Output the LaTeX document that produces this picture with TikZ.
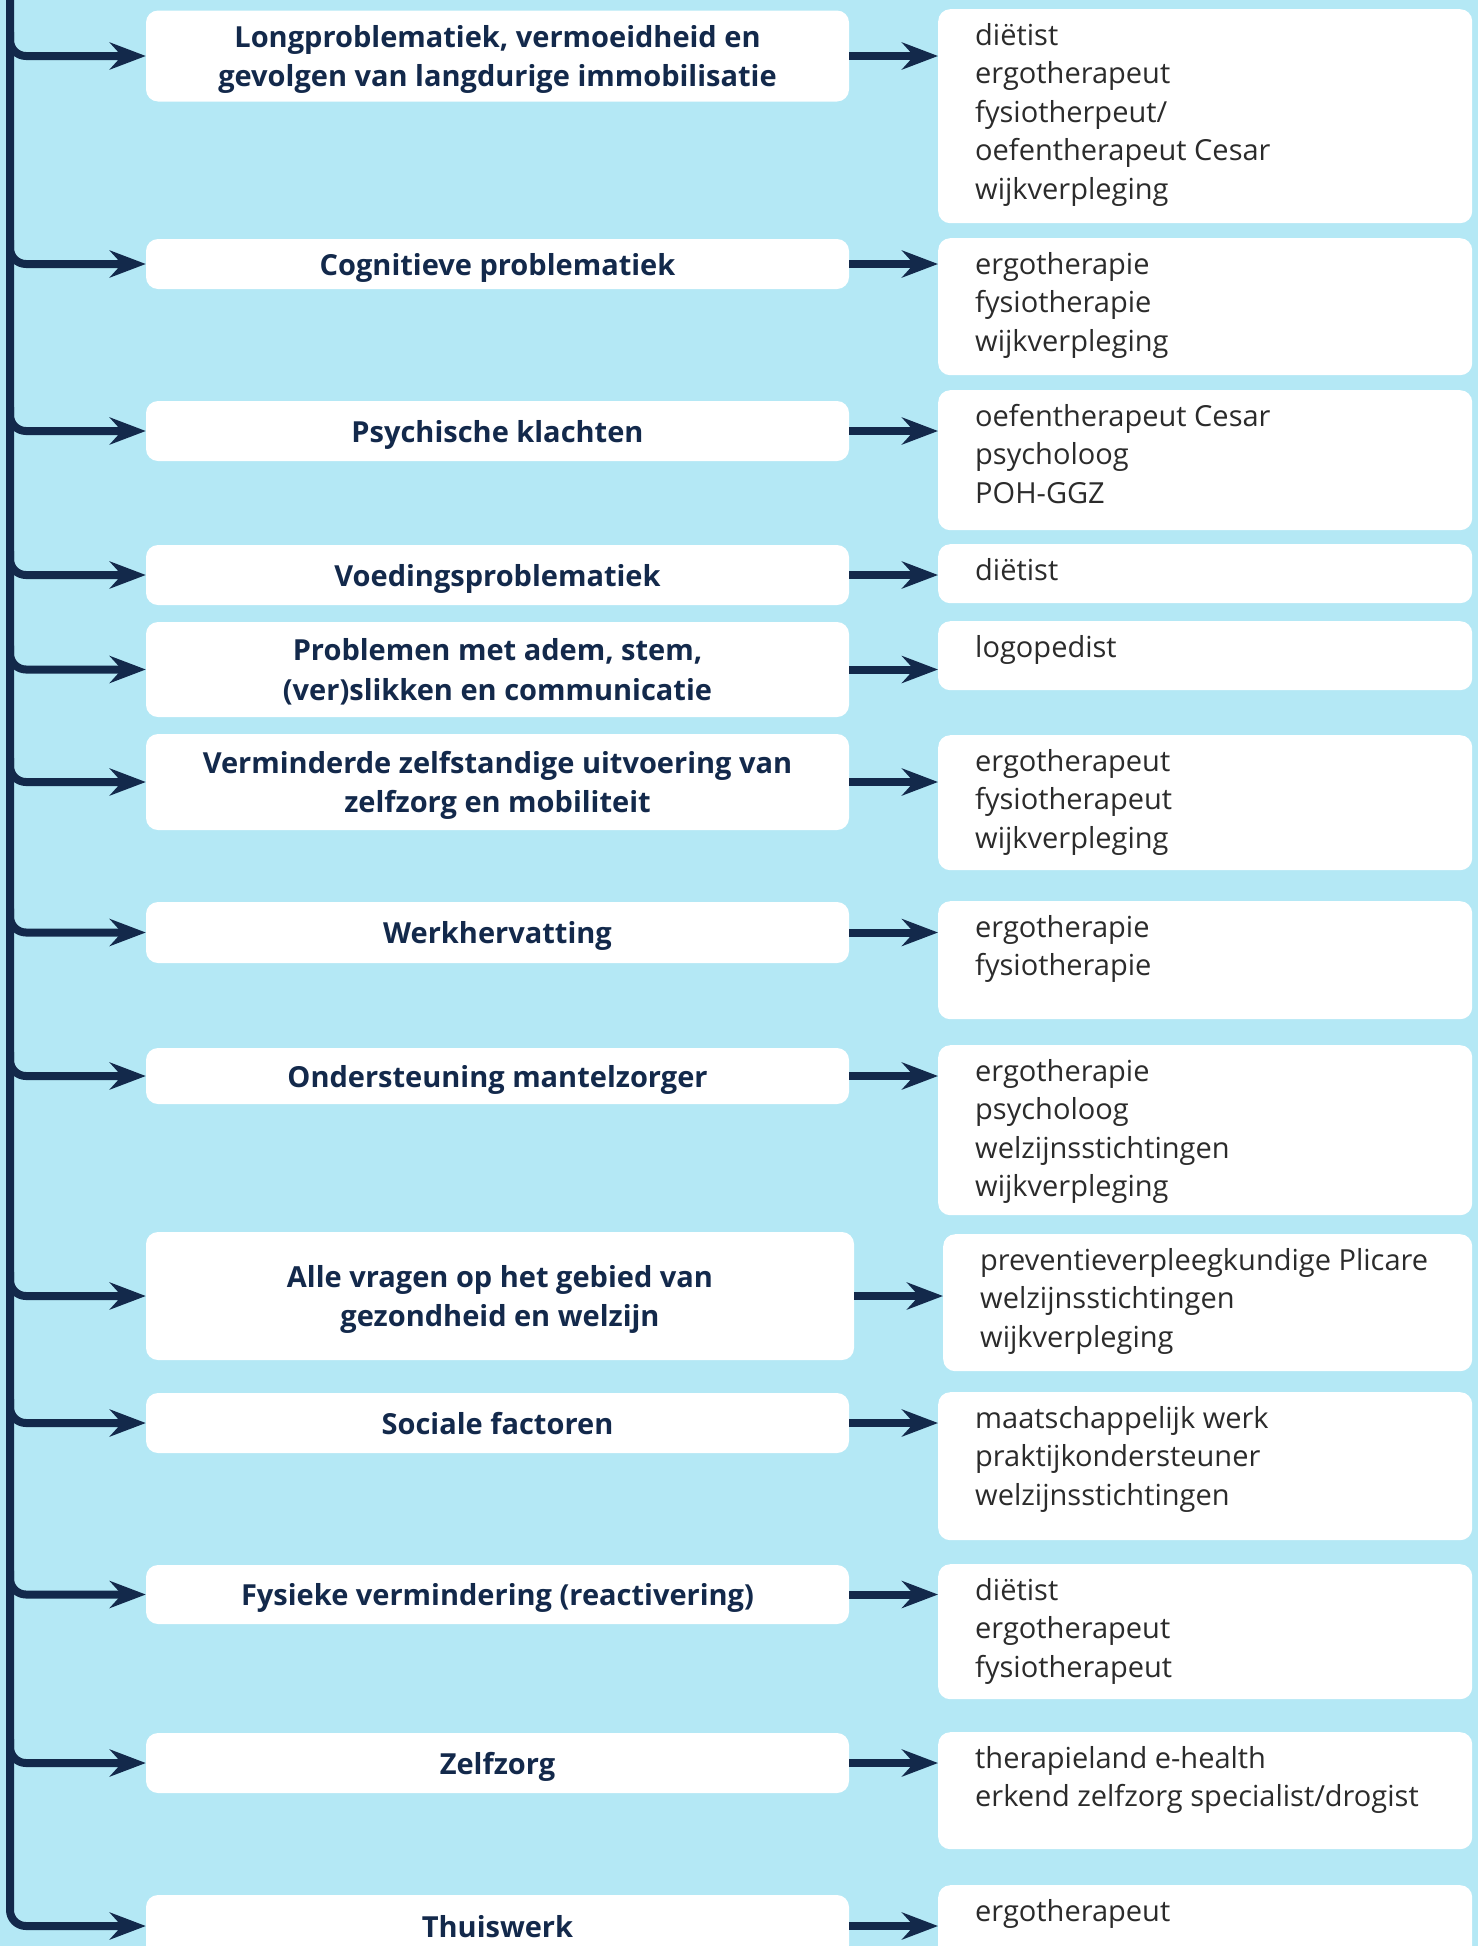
\documentclass[tikz,border=0pt]{standalone}
\usepackage{fontspec}
\setmainfont{Open Sans}
\usetikzlibrary{arrows.meta}
\definecolor{bg}{HTML}{B4E8F5}
\definecolor{navy}{HTML}{13294B}
\definecolor{rtxt}{HTML}{2B2B2B}
\newcommand{\rt}[3][534]{\parbox[c][#2pt][t]{#1pt}{\fontsize{29}{38.5}\selectfont\raggedright\leftskip=37pt\vspace*{9pt}\strut#3}}

\begin{document}
\begin{tikzpicture}[x=1pt, y=-1pt]
	\tikzstyle{lbox} = [fill=white, rounded corners=12pt, minimum width=703pt, align=center, text depth=0pt, text=navy, font=\fontsize{29}{39.5}\selectfont\bfseries]
	\tikzstyle{rbox} = [fill=white, rounded corners=12pt, anchor=north west, inner sep=0pt, text=rtxt]
	\tikzstyle{link} = [draw=navy, line width=8pt, rounded corners=16pt, -{Stealth[length=36pt, width=27pt, inset=12pt]}]
	\fill[bg] (0,0) rectangle (1478,1946);
	\useasboundingbox (0,0) rectangle (1478,1946);
	\coordinate (trunk) at (10,-10);
	\node[lbox, minimum height=91pt] (l1) at (497.5, 56) {Longproblematiek, vermoeidheid en\\gevolgen van langdurige immobilisatie};
	\node[lbox, minimum height=50pt] (l2) at (497.5, 264) {Cognitieve problematiek};
	\node[lbox, minimum height=60pt] (l3) at (497.5, 431) {Psychische klachten};
	\node[lbox, minimum height=60pt] (l4) at (497.5, 575) {Voedingsproblematiek};
	\node[lbox, minimum height=95pt] (l5) at (497.5, 669.5) {Problemen met adem, stem,\\(ver)slikken en communicatie};
	\node[lbox, minimum height=96pt] (l6) at (497.5, 782) {Verminderde zelfstandige uitvoering van\\zelfzorg en mobiliteit};
	\node[lbox, minimum height=61pt] (l7) at (497.5, 932.5) {Werkhervatting};
	\node[lbox, minimum height=56pt] (l8) at (497.5, 1076) {Ondersteuning mantelzorger};
	\node[lbox, minimum height=128pt, minimum width=708pt] (l9) at (500, 1296) {Alle vragen op het gebied van\\gezondheid en welzijn};
	\node[lbox, minimum height=60pt] (l10) at (497.5, 1423) {Sociale factoren};
	\node[lbox, minimum height=59pt] (l11) at (497.5, 1594.5) {Fysieke vermindering (reactivering)};
	\node[lbox, minimum height=60pt] (l12) at (497.5, 1763) {Zelfzorg};
	\node[lbox, minimum height=62pt] (l13) at (497.5, 1926) {Thuiswerk};
	\node[rbox] (r1) at (938, 9) {\rt{214}{diëtist\\ergotherapeut\\fysiotherpeut/\\oefentherapeut Cesar\\wijkverpleging}};
	\node[rbox] (r2) at (938, 238) {\rt{137}{ergotherapie\\fysiotherapie\\wijkverpleging}};
	\node[rbox] (r3) at (938, 390) {\rt{140}{oefentherapeut Cesar\\psycholoog\\POH-GGZ}};
	\node[rbox] (r4) at (938, 544) {\rt{59}{diëtist}};
	\node[rbox] (r5) at (938, 621) {\rt{69}{logopedist}};
	\node[rbox] (r6) at (938, 735) {\rt{135}{ergotherapeut\\fysiotherapeut\\wijkverpleging}};
	\node[rbox] (r7) at (938, 901) {\rt{118}{ergotherapie\\fysiotherapie}};
	\node[rbox] (r8) at (938, 1045) {\rt{170}{ergotherapie\\psycholoog\\welzijnsstichtingen\\wijkverpleging}};
	\node[rbox] (r9) at (943, 1234) {\rt[529]{137}{preventieverpleegkundige Plicare\\welzijnsstichtingen\\wijkverpleging}};
	\node[rbox] (r10) at (938, 1392) {\rt{148}{maatschappelijk werk\\praktijkondersteuner\\welzijnsstichtingen}};
	\node[rbox] (r11) at (938, 1564) {\rt{135}{diëtist\\ergotherapeut\\fysiotherapeut}};
	\node[rbox] (r12) at (938, 1732) {\rt{117}{therapieland e-health\\erkend zelfzorg specialist/drogist}};
	\node[rbox] (r13) at (938, 1885) {\rt{100}{ergotherapeut}};
	\draw[link] (trunk) |- (l13.west);
	\foreach \i in {1,...,12}
		\draw[link] (trunk |- l\i.west) ++(0,-24) |- (l\i.west);
	\foreach \i in {1,...,13}
		\draw[link] (l\i.east) -- (l\i.east -| r\i.west);
\end{tikzpicture}
\end{document}
